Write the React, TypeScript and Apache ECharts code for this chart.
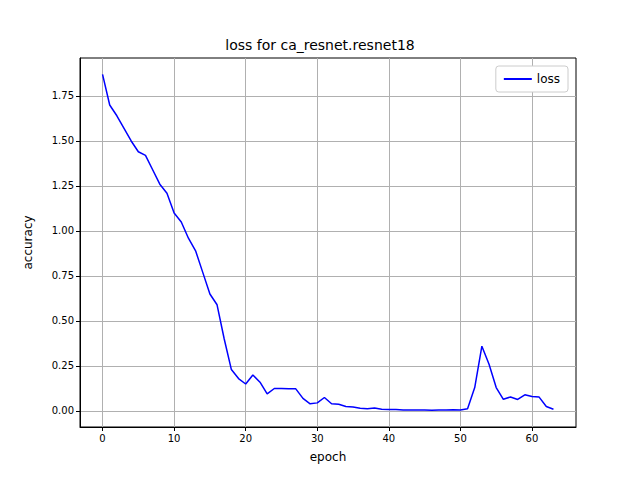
import { useEffect, useRef } from "react";
import * as echarts from "echarts";

const epochs = Array.from({ length: 64 }, (_, i) => i);
const loss = [
  1.87, 1.70, 1.64, 1.57, 1.50, 1.44, 1.42, 1.34, 1.26, 1.21,
  1.10, 1.05, 0.96, 0.89, 0.77, 0.65, 0.59, 0.40, 0.23, 0.18,
  0.15, 0.20, 0.16, 0.095, 0.125, 0.125, 0.124, 0.123, 0.07, 0.04,
  0.045, 0.075, 0.04, 0.037, 0.025, 0.022, 0.015, 0.013, 0.016, 0.01,
  0.008, 0.008, 0.005, 0.006, 0.006, 0.005, 0.004, 0.005, 0.006, 0.007,
  0.006, 0.013, 0.13, 0.36, 0.26, 0.13, 0.065, 0.078, 0.064, 0.09,
  0.08, 0.077, 0.025, 0.01,
];
const xTicks = [0, 10, 20, 30, 40, 50, 60];
const yTicks = [0, 0.25, 0.5, 0.75, 1.0, 1.25, 1.5, 1.75];

export default function App() {
  const ref = useRef<HTMLDivElement>(null);
  useEffect(() => {
    if (!ref.current) return;
    const chart = echarts.init(ref.current, undefined, { renderer: "svg" });
    const font = "DejaVu Sans";
    const splitLine = { show: true, lineStyle: { color: "#b0b0b0", width: 1 } };
    chart.setOption({
      animation: false,
      textStyle: { fontFamily: font },
      title: {
        text: "loss for ca_resnet.resnet18",
        left: "center", top: 33,
        textStyle: { fontSize: 14, fontWeight: "normal", color: "#000", fontFamily: font },
      },
      legend: {
        right: 72, top: 66,
        data: ["loss"],
        itemWidth: 28, itemHeight: 2,
        icon: "rect",
        backgroundColor: "#fff", borderColor: "#ccc", borderWidth: 1, borderRadius: 3,
        padding: [7, 8],
        textStyle: { fontSize: 12, color: "#000" },
      },
      grid: { left: 80, right: 64, top: 58, bottom: 53, show: true, borderColor: "#000", borderWidth: 1 },
      xAxis: {
        type: "value", min: -3.15, max: 66.15,
        name: "epoch", nameLocation: "middle", nameGap: 24,
        nameTextStyle: { fontSize: 12, color: "#000" },
        axisLine: { show: true, onZero: false, lineStyle: { color: "#000" } },
        axisTick: { show: true, customValues: xTicks, lineStyle: { color: "#000" }, length: 4 },
        axisLabel: { customValues: xTicks, color: "#000", fontSize: 10, margin: 6 },
        splitLine,
      },
      yAxis: {
        type: "value", min: -0.089, max: 1.961,
        name: "accuracy", nameLocation: "middle", nameGap: 46,
        nameTextStyle: { fontSize: 12, color: "#000" },
        axisLine: { show: true, onZero: false, lineStyle: { color: "#000" } },
        axisTick: { show: true, customValues: yTicks, lineStyle: { color: "#000" }, length: 4 },
        axisLabel: {
          customValues: yTicks, color: "#000", fontSize: 10, margin: 6,
          formatter: (v: number) => v.toFixed(2),
        },
        splitLine,
      },
      series: [{
        name: "loss", type: "line", showSymbol: false,
        data: epochs.map((e, i) => [e, loss[i]]),
        lineStyle: { color: "#0000ff", width: 1.5 },
        itemStyle: { color: "#0000ff" },
      }],
    });
    return () => chart.dispose();
  }, []);
  return <div ref={ref} style={{ width: 640, height: 480, margin: -8 }} />;
}
